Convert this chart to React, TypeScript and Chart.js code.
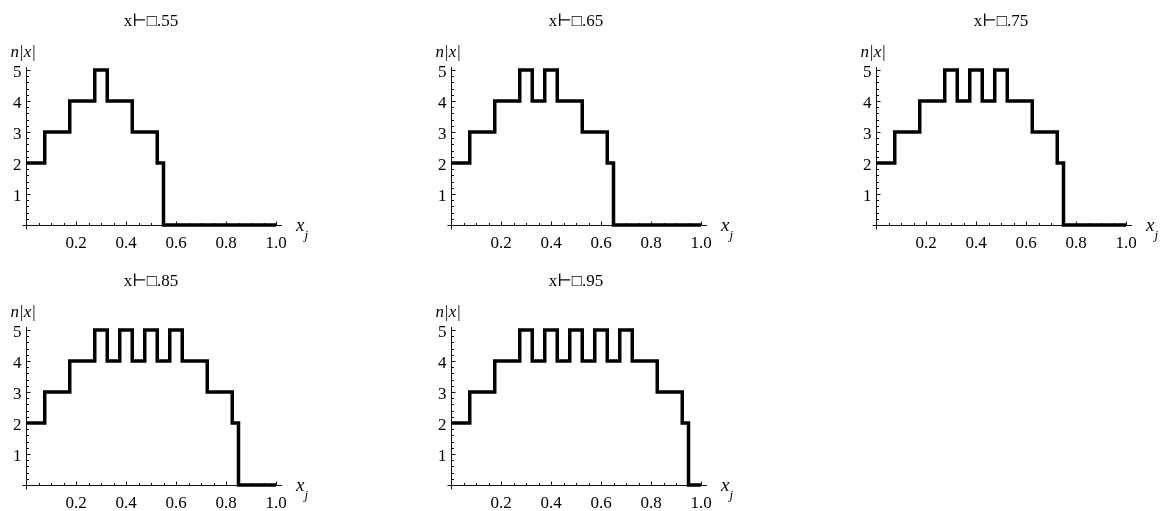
import { useEffect, useRef } from "react";
import { Chart, registerables } from "chart.js";

Chart.register(...registerables);

// ---- data ----
const titles = ["x⊢□.55", "x⊢□.65", "x⊢□.75", "x⊢□.85", "x⊢□.95"];

const xs55 = [0, 0.075, 0.175, 0.275, 0.325, 0.425, 0.525, 0.55, 1.0];
const ys55 = [2, 3, 4, 5, 4, 3, 2, 0, 0];

const xs65 = [0, 0.075, 0.175, 0.275, 0.325, 0.375, 0.425, 0.525, 0.625, 0.65, 1.0];
const ys65 = [2, 3, 4, 5, 4, 5, 4, 3, 2, 0, 0];

const xs75 = [0, 0.075, 0.175, 0.275, 0.325, 0.375, 0.425, 0.475, 0.525, 0.625, 0.725, 0.75, 1.0];
const ys75 = [2, 3, 4, 5, 4, 5, 4, 5, 4, 3, 2, 0, 0];

const xs85 = [0, 0.075, 0.175, 0.275, 0.325, 0.375, 0.425, 0.475, 0.525, 0.575, 0.625, 0.725, 0.825, 0.85, 1.0];
const ys85 = [2, 3, 4, 5, 4, 5, 4, 5, 4, 5, 4, 3, 2, 0, 0];

const xs95 = [0, 0.075, 0.175, 0.275, 0.325, 0.375, 0.425, 0.475, 0.525, 0.575, 0.625, 0.675, 0.725, 0.825, 0.925, 0.95, 1.0];
const ys95 = [2, 3, 4, 5, 4, 5, 4, 5, 4, 5, 4, 5, 4, 3, 2, 0, 0];

const xTickValues = [0.2, 0.4, 0.6, 0.8, 1.0];
const xTickLabels = ["0.2", "0.4", "0.6", "0.8", "1.0"];
const yTickValues = [1, 2, 3, 4, 5];
const yTickLabels = ["1", "2", "3", "4", "5"];
const yAxisLabel = "n|x|";
const xAxisLabelMain = "x";
const xAxisLabelSub = "j";

const panels = [
  { xs: xs55, ys: ys55, title: titles[0] },
  { xs: xs65, ys: ys65, title: titles[1] },
  { xs: xs75, ys: ys75, title: titles[2] },
  { xs: xs85, ys: ys85, title: titles[3] },
  { xs: xs95, ys: ys95, title: titles[4] },
];

const PW = 425;
const PH = 260;
const SERIF = "'Liberation Serif', 'DejaVu Serif', serif";

function makeAxesPlugin(title: string) {
  return {
    id: "mmaAxes",
    beforeDatasetsDraw(chart: any) {
      const { ctx, scales, chartArea } = chart;
      const sx = scales.x;
      const sy = scales.y;
      const X0 = Math.round(sx.getPixelForValue(0)) + 0.5;
      const Y0 = Math.round(sy.getPixelForValue(0)) + 0.5;
      const XR = sx.getPixelForValue(1);
      const YT = sy.getPixelForValue(5);
      ctx.save();
      ctx.strokeStyle = "#111";
      ctx.lineWidth = 1;
      ctx.beginPath();
      ctx.moveTo(X0 - 4, Y0);
      ctx.lineTo(XR + 6, Y0);
      ctx.moveTo(X0, Y0 + 4);
      ctx.lineTo(X0, YT - 3);
      for (let i = 1; i <= 20; i++) {
        const px = Math.round(sx.getPixelForValue(i * 0.05)) + 0.5;
        const len = i % 4 === 0 ? 4 : 2.5;
        ctx.moveTo(px, Y0);
        ctx.lineTo(px, Y0 - len);
      }
      for (let i = 1; i <= 25; i++) {
        const py = Math.round(sy.getPixelForValue(i * 0.2)) + 0.5;
        const len = i % 5 === 0 ? 4 : 2.5;
        ctx.moveTo(X0, py);
        ctx.lineTo(X0 + len, py);
      }
      ctx.stroke();

      ctx.fillStyle = "#000";
      ctx.font = `17px ${SERIF}`;
      ctx.textBaseline = "alphabetic";
      ctx.textAlign = "center";
      xTickValues.forEach((v, i) => {
        ctx.fillText(xTickLabels[i], sx.getPixelForValue(v), Y0 + 22.5);
      });
      ctx.textAlign = "right";
      yTickValues.forEach((v, i) => {
        ctx.fillText(yTickLabels[i], X0 - 5, sy.getPixelForValue(v) + 6.5);
      });

      // title
      ctx.textAlign = "center";
      ctx.font = `17px ${SERIF}`;
      ctx.fillText(title, (chartArea.left + chartArea.right) / 2, 26);

      // y axis label
      ctx.textAlign = "left";
      ctx.font = `italic 17px ${SERIF}`;
      ctx.fillText(yAxisLabel, X0 - 16, YT - 13);

      // x axis label
      ctx.font = `italic 19px ${SERIF}`;
      ctx.fillText(xAxisLabelMain, XR + 20, Y0 + 5);
      const w = ctx.measureText(xAxisLabelMain).width;
      ctx.font = `italic 13px ${SERIF}`;
      ctx.fillText(xAxisLabelSub, XR + 20 + w, Y0 + 13);
      ctx.restore();
    },
  };
}

function Panel({ xs, ys, title, left, top }: { xs: number[]; ys: number[]; title: string; left: number; top: number }) {
  const ref = useRef<HTMLCanvasElement>(null);
  useEffect(() => {
    const chart = new Chart(ref.current as HTMLCanvasElement, {
      type: "line",
      data: {
        datasets: [
          {
            data: xs.map((x, i) => ({ x, y: ys[i] })),
            stepped: true,
            borderColor: "#000",
            borderWidth: 3.5,
            pointRadius: 0,
            fill: false,
            clip: false,
            borderJoinStyle: "miter",
            borderCapStyle: "butt",
          } as any,
        ],
      },
      options: {
        animation: false,
        responsive: false,
        maintainAspectRatio: false,
        events: [],
        layout: { padding: { left: 26, right: 149, top: 70, bottom: 35 } },
        scales: {
          x: { type: "linear", min: 0, max: 1, display: false },
          y: { type: "linear", min: 0, max: 5, display: false },
        },
        plugins: { legend: { display: false }, tooltip: { enabled: false }, title: { display: false } },
      },
      plugins: [makeAxesPlugin(title)],
    });
    return () => chart.destroy();
  }, [xs, ys, title]);
  return (
    <canvas
      ref={ref}
      width={PW}
      height={PH}
      style={{ position: "absolute", left, top, width: PW, height: PH }}
    />
  );
}

export default function App() {
  return (
    <div style={{ position: "fixed", left: 0, top: 0, width: 1167, height: 511, background: "#fff" }}>
      {panels.map((p, i) => (
        <Panel key={i} xs={p.xs} ys={p.ys} title={p.title} left={(i % 3) * PW} top={Math.floor(i / 3) * PH} />
      ))}
    </div>
  );
}
